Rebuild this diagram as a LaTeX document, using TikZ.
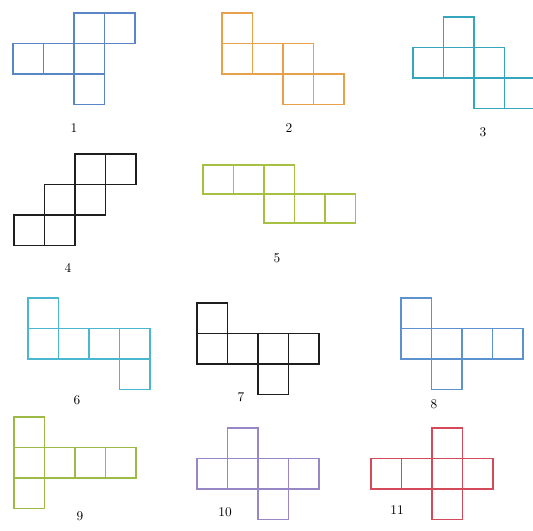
\documentclass[tikz,border=0pt]{standalone}
\usepackage{tikz}

\definecolor{netblue}{HTML}{5A86C5}
\definecolor{netorange}{HTML}{E9A04C}
\definecolor{netteal}{HTML}{35A6BE}
\definecolor{netdark}{HTML}{1E1E1E}
\definecolor{netlime}{HTML}{A6C042}
\definecolor{netcyan}{HTML}{4AB6CF}
\definecolor{netsky}{HTML}{5B92CF}
\definecolor{netolive}{HTML}{9EBA46}
\definecolor{netpurple}{HTML}{9787C6}
\definecolor{netred}{HTML}{D54A5A}

\begin{document}
\begin{tikzpicture}[x=0.75pt,y=-0.75pt,
  face/.style={line width=1.3pt},
  num/.style={font=\normalsize, inner sep=0pt}]
  \useasboundingbox (0,0) rectangle (533,531);
  \def\sz{30.5}

  % Net 1
  \foreach \c/\r in {2/0, 3/0, 0/1, 1/1, 2/1, 2/2}
    \draw[face, netblue] (13+\c*\sz, 13+\r*\sz) rectangle ++(\sz,\sz);
  \node[num] (lab1) at (74,128) {1};

  % Net 2
  \foreach \c/\r in {0/0, 0/1, 1/1, 2/1, 2/2, 3/2}
    \draw[face, netorange] (222+\c*\sz, 13+\r*\sz) rectangle ++(\sz,\sz);
  \node[num] (lab2) at (289,128) {2};

  % Net 3
  \foreach \c/\r in {1/0, 0/1, 1/1, 2/1, 2/2, 3/2}
    \draw[face, netteal] (413+\c*\sz, 17+\r*\sz) rectangle ++(\sz,\sz);
  \node[num] (lab3) at (483,132) {3};

  % Net 4
  \foreach \c/\r in {2/0, 3/0, 1/1, 2/1, 0/2, 1/2}
    \draw[face, netdark] (14+\c*\sz, 154+\r*\sz) rectangle ++(\sz,\sz);
  \node[num] (lab4) at (68,268) {4};

  % Net 5
  \foreach \c/\r in {0/0, 1/0, 2/0, 2/1, 3/1, 4/1}
    \draw[face, netlime] (203+\c*\sz, 165+\r*29) rectangle ++(\sz,29);
  \node[num] (lab5) at (277,258) {5};

  % Net 6
  \foreach \c/\r in {0/0, 0/1, 1/1, 2/1, 3/1, 3/2}
    \draw[face, netcyan] (28+\c*\sz, 298+\r*\sz) rectangle ++(\sz,\sz);
  \node[num] (lab6) at (77,400) {6};

  % Net 7
  \foreach \c/\r in {0/0, 0/1, 1/1, 2/1, 3/1, 2/2}
    \draw[face, netdark] (197+\c*\sz, 303+\r*\sz) rectangle ++(\sz,\sz);
  \node[num] (lab7) at (241,397) {7};

  % Net 8
  \foreach \c/\r in {0/0, 0/1, 1/1, 2/1, 3/1, 1/2}
    \draw[face, netsky] (401+\c*\sz, 298+\r*\sz) rectangle ++(\sz,\sz);
  \node[num] (lab8) at (434,404) {8};

  % Net 9
  \foreach \c/\r in {0/0, 0/1, 1/1, 2/1, 3/1, 0/2}
    \draw[face, netolive] (14+\c*\sz, 417+\r*\sz) rectangle ++(\sz,\sz);
  \node[num] (lab9) at (80,516) {9};

  % Net 10
  \foreach \c/\r in {1/0, 0/1, 1/1, 2/1, 3/1, 2/2}
    \draw[face, netpurple] (197+\c*\sz, 428+\r*\sz) rectangle ++(\sz,\sz);
  \node[num] (lab10) at (225,512) {10};

  % Net 11
  \foreach \c/\r in {2/0, 0/1, 1/1, 2/1, 3/1, 2/2}
    \draw[face, netred] (371+\c*\sz, 428+\r*\sz) rectangle ++(\sz,\sz);
  \node[num] (lab11) at (397,510) {11};

\end{tikzpicture}
\end{document}
